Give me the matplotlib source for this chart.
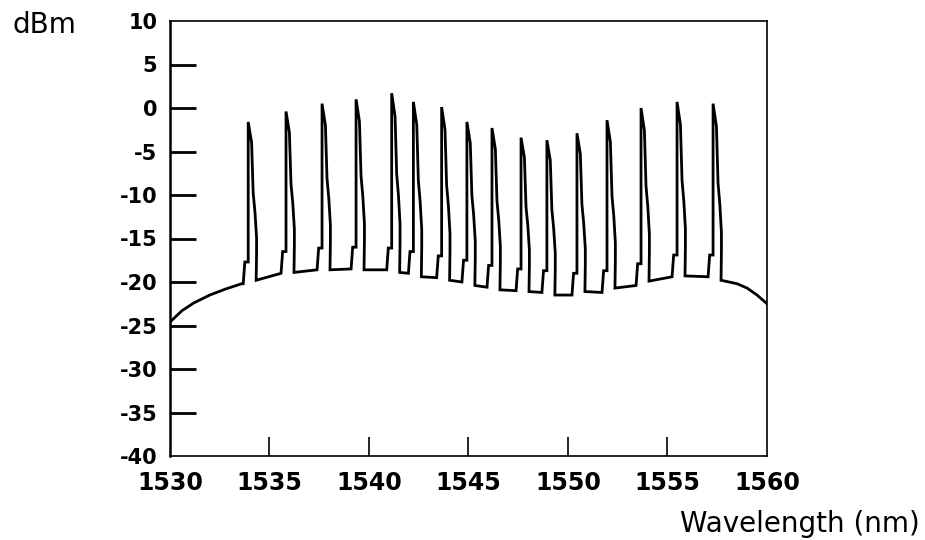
import matplotlib
matplotlib.use("Agg")
import matplotlib.pyplot as plt

# channel wavelengths (nm) and peak powers (dBm)
ch_wl = [1533.93, 1535.83, 1537.64, 1539.35, 1541.14, 1542.23, 1543.65, 1544.92,
         1546.18, 1547.64, 1548.94, 1550.45, 1551.96, 1553.67, 1555.48, 1557.29]
ch_peak = [-1.6, -0.4, 0.5, 1.0, 1.7, 0.7, 0.1, -1.6,
           -2.3, -3.4, -3.7, -2.9, -1.4, 0.0, 0.7, 0.5]

# noise floor level at the left / right foot of each channel
foot_left = [-20.2, -19.0, -18.6, -18.5, -18.6, -19.0, -19.5, -20.0,
             -20.6, -21.0, -21.2, -21.5, -21.2, -20.4, -19.4, -19.4]
foot_right = [-19.8, -18.9, -18.6, -18.6, -18.9, -19.4, -19.8, -20.4,
              -20.9, -21.1, -21.5, -21.1, -20.7, -19.9, -19.3, -19.8]

# ASE floor before the first channel and after the last one
ase_head_wl = [1530.0, 1530.6, 1531.2, 1532.0, 1532.8, 1533.6]
ase_head_db = [-24.6, -23.3, -22.4, -21.5, -20.8, -20.2]
ase_tail_wl = [1558.5, 1559.0, 1559.5, 1559.8, 1560.0]
ase_tail_db = [-20.2, -20.7, -21.5, -22.1, -22.5]

xticks = [1530, 1535, 1540, 1545, 1550, 1555, 1560]
xtick_labels = ["1530", "1535", "1540", "1545", "1550", "1555", "1560"]
yticks = [10, 5, 0, -5, -10, -15, -20, -25, -30, -35, -40]
ytick_labels = ["10", "5", "0", "-5", "-10", "-15", "-20", "-25", "-30", "-35", "-40"]

# build the trace: floor, then each spike (sharp rise, steep stepped fall)
wl = list(ase_head_wl)
db = list(ase_head_db)
for c, p, fl, fr in zip(ch_wl, ch_peak, foot_left, foot_right):
    h = p - fr
    wl += [c - 0.25, c - 0.17, c, c, c + 0.17, c + 0.25, c + 0.34, c + 0.42, c + 0.42, c + 0.40]
    db += [fl, fl + 2.5, fl + 2.5, p, p - 0.13 * h, p - 0.45 * h, p - 0.57 * h,
           p - 0.73 * h, p - 0.83 * h, fr]
wl += ase_tail_wl
db += ase_tail_db

fig = plt.figure(figsize=(9.25, 5.4), dpi=100)
ax = fig.add_axes([170 / 925, 1 - 456 / 540, 597 / 925, 435 / 540])

ax.plot(wl, db, color="black", lw=2.0, solid_joinstyle="miter")

ax.set_xlim(1530, 1560)
ax.set_ylim(-40, 10)
ax.set_xticks(xticks)
ax.set_xticklabels(xtick_labels)
ax.set_yticks(yticks)
ax.set_yticklabels(ytick_labels)
ax.tick_params(axis="y", direction="in", length=19, width=2.0, pad=9,
               labelsize=15)
ax.tick_params(axis="x", direction="in", length=14, width=1.2, pad=11,
               labelsize=17)
for lab in ax.get_xticklabels() + ax.get_yticklabels():
    lab.set_fontweight("bold")

# the end ticks sit on the spines, hide their marks but keep the labels
for tk in [ax.xaxis.get_major_ticks()[0], ax.xaxis.get_major_ticks()[-1],
           ax.yaxis.get_major_ticks()[0], ax.yaxis.get_major_ticks()[-1]]:
    tk.tick1line.set_visible(False)

for side in ["top", "right", "bottom"]:
    ax.spines[side].set_linewidth(1.2)
ax.spines["left"].set_linewidth(1.8)

fig.text(13 / 925, 1 - 25 / 540, "dBm", fontsize=20, ha="left", va="center")
fig.text(920 / 925, 1 - 524 / 540, "Wavelength (nm)", fontsize=20,
         ha="right", va="center")

fig.savefig("out.png", dpi=100, facecolor="white")
